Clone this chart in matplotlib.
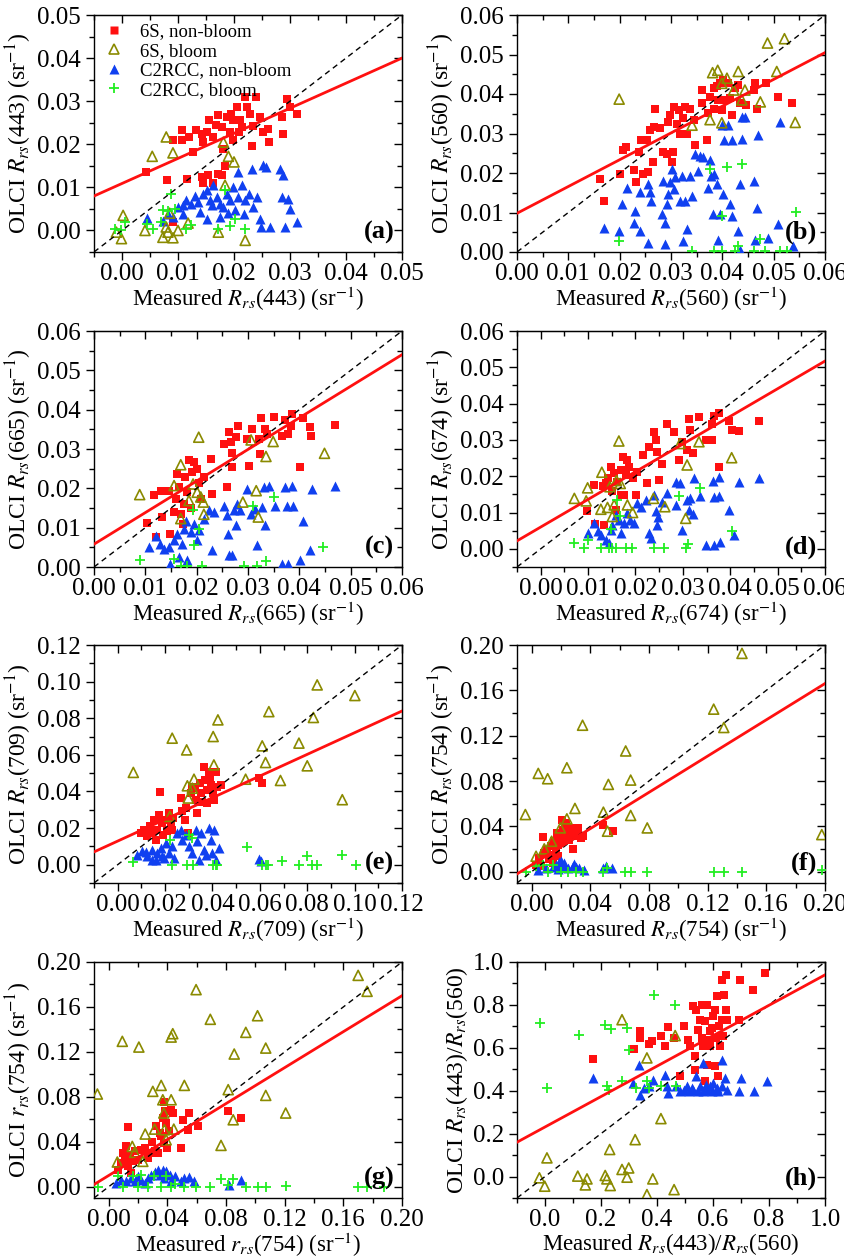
import numpy as np
import matplotlib
matplotlib.use('Agg')
import matplotlib.pyplot as plt
from matplotlib.lines import Line2D
from matplotlib.ticker import MultipleLocator, AutoMinorLocator, FormatStrFormatter

plt.rcParams['font.family'] = ['Liberation Serif', 'DejaVu Serif']
plt.rcParams['mathtext.fontset'] = 'stix'

# ---- panel (a): Rrs(443) ----
a_6s_nb = [(0.0042, 0.0135), (0.0081, 0.0116), (0.0091, 0.0211), (0.0108, 0.0234), (0.0108, 0.0209),
           (0.0120, 0.0217), (0.0127, 0.0182), (0.0116, 0.0119), (0.0133, 0.0233), (0.0142, 0.0225),
           (0.0151, 0.0229), (0.0145, 0.0205), (0.0156, 0.0256), (0.0163, 0.0217), (0.0172, 0.0267),
           (0.0178, 0.0240), (0.0187, 0.0264), (0.0194, 0.0271), (0.0199, 0.0256), (0.0205, 0.0287),
           (0.0211, 0.0256), (0.0209, 0.0229), (0.0220, 0.0310), (0.0223, 0.0287), (0.0229, 0.0271),
           (0.0239, 0.0310), (0.0234, 0.0242), (0.0246, 0.0264), (0.0252, 0.0229), (0.0260, 0.0236),
           (0.0263, 0.0205), (0.0232, 0.0195), (0.0285, 0.0264), (0.0294, 0.0306), (0.0300, 0.0287),
           (0.0312, 0.0271), (0.0287, 0.0225), (0.0193, 0.0229), (0.0199, 0.0209), (0.0180, 0.0188),
           (0.0184, 0.0149), (0.0178, 0.0128), (0.0172, 0.0132), (0.0163, 0.0109), (0.0154, 0.0128),
           (0.0142, 0.0124), (0.0144, 0.0109), (0.0091, 0.0019), (0.0168, 0.0245), (0.0215, 0.0240)]
a_6s_b = [(0.0079, 0.0217), (0.0054, 0.0172), (0.0091, 0.0180), (0.0002, 0.0035), (-0.0001, -0.0019),
          (-0.0010, -0.0004), (0.0041, 0.0000), (0.0073, -0.0016), (0.0082, -0.0004), (0.0085, 0.0040),
          (0.0091, -0.0017), (0.0100, 0.0000), (0.0118, 0.0017), (0.0172, -0.0004), (0.0181, 0.0205),
          (0.0190, 0.0172), (0.0200, 0.0159), (0.0184, 0.0105), (0.0220, -0.0023), (0.0079, 0.0008)]
a_c2_nb = [(0.0044, 0.0029), (0.0073, 0.0023), (0.0082, 0.0039), (0.0091, 0.0031), (0.0100, 0.0054),
           (0.0109, 0.0039), (0.0109, 0.0058), (0.0115, 0.0070), (0.0124, 0.0062), (0.0130, 0.0081),
           (0.0136, 0.0066), (0.0139, 0.0043), (0.0145, 0.0085), (0.0151, 0.0027), (0.0157, 0.0070),
           (0.0163, 0.0105), (0.0169, 0.0078), (0.0175, 0.0062), (0.0175, 0.0031), (0.0181, 0.0054),
           (0.0187, 0.0085), (0.0193, 0.0070), (0.0199, 0.0101), (0.0202, 0.0047), (0.0208, 0.0136),
           (0.0208, 0.0078), (0.0214, 0.0105), (0.0217, 0.0039), (0.0220, 0.0070), (0.0226, 0.0085),
           (0.0232, 0.0143), (0.0234, 0.0054), (0.0241, 0.0078), (0.0246, 0.0027), (0.0252, 0.0151),
           (0.0258, 0.0147), (0.0249, 0.0008), (0.0264, 0.0008), (0.0282, 0.0143), (0.0287, 0.0128),
           (0.0285, 0.0078), (0.0297, 0.0074), (0.0300, 0.0050), (0.0291, 0.0008), (0.0312, 0.0019),
           (0.0151, 0.0093), (0.0160, 0.0060), (0.0190, 0.0040)]
a_c2_b = [(-0.0013, 0.0004), (-0.0001, 0.0000), (0.0005, 0.0019), (0.0044, 0.0016), (0.0055, 0.0004),
          (0.0073, 0.0048), (0.0082, 0.0045), (0.0088, 0.0085), (0.0094, 0.0050), (0.0070, 0.0019),
          (0.0115, 0.0004), (0.0124, 0.0012), (0.0172, 0.0004), (0.0184, 0.0093), (0.0193, 0.0010),
          (0.0202, 0.0027), (0.0220, 0.0004)]

# ---- panel (b): Rrs(560) ----
b_6s_nb = [(0.0162, 0.0185), (0.0169, 0.0129), (0.0200, 0.0197), (0.0206, 0.0257), (0.0213, 0.0267),
           (0.0227, 0.0208), (0.0232, 0.0178), (0.0237, 0.0253), (0.0241, 0.0283), (0.0246, 0.0197),
           (0.0256, 0.0202), (0.0253, 0.0283), (0.0259, 0.0308), (0.0265, 0.0227), (0.0266, 0.0317),
           (0.0279, 0.0313), (0.0269, 0.0363), (0.0285, 0.0253), (0.0292, 0.0249), (0.0295, 0.0329),
           (0.0298, 0.0346), (0.0302, 0.0227), (0.0304, 0.0253), (0.0306, 0.0368), (0.0311, 0.0325),
           (0.0315, 0.0359), (0.0318, 0.0300), (0.0328, 0.0368), (0.0324, 0.0338), (0.0337, 0.0363),
           (0.0344, 0.0334), (0.0331, 0.0300), (0.0347, 0.0270), (0.0360, 0.0410), (0.0360, 0.0376),
           (0.0370, 0.0283), (0.0376, 0.0393), (0.0373, 0.0351), (0.0383, 0.0414), (0.0383, 0.0363),
           (0.0389, 0.0419), (0.0392, 0.0385), (0.0396, 0.0427), (0.0399, 0.0359), (0.0402, 0.0436),
           (0.0405, 0.0385), (0.0412, 0.0427), (0.0415, 0.0389), (0.0418, 0.0346), (0.0425, 0.0414),
           (0.0431, 0.0423), (0.0435, 0.0376), (0.0447, 0.0372), (0.0461, 0.0410), (0.0464, 0.0427),
           (0.0467, 0.0363), (0.0486, 0.0427), (0.0509, 0.0393), (0.0535, 0.0376)]
b_6s_b = [(0.0199, 0.0387), (0.0341, 0.0321), (0.0376, 0.0335), (0.0381, 0.0454), (0.0391, 0.0460),
          (0.0399, 0.0327), (0.0399, 0.0427), (0.0409, 0.0440), (0.0422, 0.0410), (0.0431, 0.0457),
          (0.0438, 0.0385), (0.0444, 0.0410), (0.0474, 0.0380), (0.0488, 0.0529), (0.0506, 0.0457),
          (0.0521, 0.0540), (0.0542, 0.0328)]
b_c2_nb = [(0.0169, 0.0061), (0.0198, 0.0053), (0.0204, 0.0121), (0.0214, 0.0163), (0.0230, 0.0104),
           (0.0227, 0.0074), (0.0240, 0.0151), (0.0239, 0.0053), (0.0256, 0.0172), (0.0259, 0.0151),
           (0.0261, 0.0129), (0.0256, 0.0023), (0.0282, 0.0095), (0.0284, 0.0180), (0.0289, 0.0074),
           (0.0289, 0.0019), (0.0292, 0.0121), (0.0295, 0.0146), (0.0298, 0.0176), (0.0302, 0.0210),
           (0.0305, 0.0159), (0.0308, 0.0189), (0.0318, 0.0129), (0.0321, 0.0193), (0.0324, 0.0027),
           (0.0328, 0.0129), (0.0331, 0.0057), (0.0337, 0.0193), (0.0340, 0.0142), (0.0347, 0.0249),
           (0.0353, 0.0206), (0.0357, 0.0244), (0.0363, 0.0240), (0.0372, 0.0163), (0.0376, 0.0233),
           (0.0378, 0.0193), (0.0381, 0.0095), (0.0383, 0.0197), (0.0389, 0.0172), (0.0392, 0.0031),
           (0.0396, 0.0095), (0.0399, 0.0321), (0.0402, 0.0146), (0.0404, 0.0283), (0.0412, 0.0321),
           (0.0415, 0.0121), (0.0418, 0.0283), (0.0418, 0.0091), (0.0431, 0.0053), (0.0435, 0.0172),
           (0.0438, 0.0287), (0.0438, 0.0342), (0.0444, 0.0342), (0.0461, 0.0180), (0.0464, 0.0031),
           (0.0467, 0.0112), (0.0470, 0.0295), (0.0489, 0.0036), (0.0509, 0.0070), (0.0512, 0.0329),
           (0.0538, 0.0014), (0.0435, 0.0006)]
b_c2_b = [(0.0199, 0.0029), (0.0341, 0.0003), (0.0376, 0.0210), (0.0383, 0.0003), (0.0399, 0.0003),
          (0.0399, 0.0091), (0.0409, 0.0214), (0.0438, 0.0223), (0.0431, 0.0014), (0.0425, 0.0003),
          (0.0474, 0.0034), (0.0461, 0.0003), (0.0483, 0.0003), (0.0512, 0.0003), (0.0525, 0.0003),
          (0.0544, 0.0102)]

# ---- panel (c): Rrs(665) ----
c_6s_nb = [(0.0104, 0.0113), (0.0120, 0.0076), (0.0117, 0.0182), (0.0133, 0.0127), (0.0130, 0.0194),
           (0.0146, 0.0194), (0.0149, 0.0083), (0.0156, 0.0139), (0.0159, 0.0173), (0.0162, 0.0237),
           (0.0165, 0.0203), (0.0169, 0.0135), (0.0174, 0.0110), (0.0175, 0.0161), (0.0178, 0.0228),
           (0.0182, 0.0190), (0.0185, 0.0271), (0.0191, 0.0241), (0.0195, 0.0266), (0.0201, 0.0249),
           (0.0204, 0.0213), (0.0208, 0.0173), (0.0214, 0.0228), (0.0227, 0.0275), (0.0230, 0.0186),
           (0.0259, 0.0203), (0.0254, 0.0313), (0.0263, 0.0342), (0.0266, 0.0317), (0.0269, 0.0254),
           (0.0269, 0.0289), (0.0276, 0.0331), (0.0280, 0.0359), (0.0298, 0.0325), (0.0301, 0.0258),
           (0.0308, 0.0351), (0.0321, 0.0325), (0.0326, 0.0380), (0.0323, 0.0287), (0.0333, 0.0351),
           (0.0337, 0.0338), (0.0351, 0.0382), (0.0366, 0.0334), (0.0373, 0.0374), (0.0377, 0.0338),
           (0.0383, 0.0359), (0.0386, 0.0389), (0.0402, 0.0254), (0.0407, 0.0380), (0.0420, 0.0355),
           (0.0423, 0.0334), (0.0469, 0.0362), (0.0188, 0.0150)]
c_6s_b = [(0.0089, 0.0184), (0.0169, 0.0260), (0.0156, 0.0207), (0.0169, 0.0123), (0.0185, 0.0169),
          (0.0193, 0.0211), (0.0201, 0.0190), (0.0208, 0.0178), (0.0213, 0.0165), (0.0214, 0.0134),
          (0.0204, 0.0330), (0.0290, 0.0165), (0.0306, 0.0323), (0.0316, 0.0194), (0.0320, 0.0127),
          (0.0335, 0.0281), (0.0349, 0.0319), (0.0449, 0.0289)]
c_c2_nb = [(0.0107, 0.0051), (0.0120, 0.0080), (0.0128, 0.0059), (0.0136, 0.0046), (0.0146, 0.0051),
           (0.0149, 0.0008), (0.0156, 0.0068), (0.0162, 0.0085), (0.0165, 0.0025), (0.0172, 0.0059),
           (0.0176, 0.0097), (0.0180, 0.0118), (0.0182, 0.0017), (0.0188, 0.0089), (0.0195, 0.0110),
           (0.0201, 0.0068), (0.0204, 0.0093), (0.0214, 0.0123), (0.0224, 0.0144), (0.0230, 0.0042),
           (0.0233, 0.0139), (0.0253, 0.0156), (0.0259, 0.0131), (0.0261, 0.0085), (0.0263, 0.0030),
           (0.0269, 0.0030), (0.0272, 0.0144), (0.0276, 0.0106), (0.0279, 0.0161), (0.0285, 0.0144),
           (0.0298, 0.0199), (0.0305, 0.0135), (0.0314, 0.0148), (0.0318, 0.0055), (0.0327, 0.0152),
           (0.0331, 0.0203), (0.0334, 0.0106), (0.0341, 0.0207), (0.0352, 0.0156), (0.0366, 0.0008),
           (0.0373, 0.0203), (0.0376, 0.0156), (0.0377, 0.0007), (0.0386, 0.0207), (0.0388, 0.0156),
           (0.0402, 0.0017), (0.0407, 0.0118), (0.0420, 0.0044), (0.0425, 0.0199), (0.0469, 0.0205)]
c_c2_b = [(0.0089, 0.0019), (0.0156, 0.0021), (0.0169, 0.0002), (0.0195, 0.0055), (0.0193, 0.0144),
          (0.0204, 0.0097), (0.0211, 0.0002), (0.0292, 0.0002), (0.0309, 0.0156), (0.0318, 0.0002),
          (0.0336, 0.0014), (0.0350, 0.0178), (0.0447, 0.0051), (0.0182, 0.0002)]

# ---- panel (d): Rrs(674) ----
d_6s_nb = [(0.0097, 0.0103), (0.0115, 0.0068), (0.0134, 0.0066), (0.0113, 0.0176), (0.0131, 0.0172),
           (0.0137, 0.0180), (0.0141, 0.0194), (0.0148, 0.0226), (0.0151, 0.0158), (0.0155, 0.0208),
           (0.0158, 0.0107), (0.0162, 0.0185), (0.0169, 0.0148), (0.0169, 0.0217), (0.0173, 0.0254),
           (0.0180, 0.0203), (0.0183, 0.0244), (0.0187, 0.0226), (0.0194, 0.0194), (0.0201, 0.0148),
           (0.0204, 0.0212), (0.0215, 0.0258), (0.0225, 0.0180), (0.0229, 0.0281), (0.0239, 0.0322),
           (0.0243, 0.0299), (0.0246, 0.0267), (0.0249, 0.0190), (0.0256, 0.0235), (0.0267, 0.0345),
           (0.0281, 0.0322), (0.0292, 0.0244), (0.0299, 0.0295), (0.0313, 0.0359), (0.0309, 0.0272),
           (0.0316, 0.0327), (0.0322, 0.0263), (0.0334, 0.0362), (0.0348, 0.0299), (0.0362, 0.0299),
           (0.0362, 0.0345), (0.0365, 0.0365), (0.0376, 0.0373), (0.0376, 0.0226), (0.0397, 0.0353),
           (0.0404, 0.0327), (0.0418, 0.0325), (0.0460, 0.0352), (0.0176, 0.0148)]
d_6s_b = [(0.0071, 0.0139), (0.0099, 0.0168), (0.0096, 0.0132), (0.0129, 0.0211), (0.0127, 0.0109),
          (0.0141, 0.0114), (0.0146, 0.0171), (0.0151, 0.0089), (0.0155, 0.0121), (0.0160, 0.0188),
          (0.0165, 0.0297), (0.0168, 0.0180), (0.0183, 0.0121), (0.0194, 0.0100), (0.0238, 0.0139),
          (0.0262, 0.0116), (0.0294, 0.0290), (0.0306, 0.0084), (0.0309, 0.0231), (0.0334, 0.0295),
          (0.0403, 0.0251)]
d_c2_nb = [(0.0099, 0.0043), (0.0113, 0.0071), (0.0120, 0.0048), (0.0127, 0.0038), (0.0138, 0.0025),
           (0.0145, 0.0016), (0.0148, 0.0052), (0.0151, 0.0066), (0.0158, 0.0093), (0.0165, 0.0080),
           (0.0169, 0.0043), (0.0176, 0.0071), (0.0183, 0.0098), (0.0189, 0.0080), (0.0197, 0.0071),
           (0.0204, 0.0125), (0.0211, 0.0116), (0.0222, 0.0135), (0.0229, 0.0043), (0.0232, 0.0029),
           (0.0239, 0.0148), (0.0243, 0.0103), (0.0246, 0.0066), (0.0248, 0.0089), (0.0257, 0.0130),
           (0.0267, 0.0153), (0.0285, 0.0121), (0.0285, 0.0185), (0.0295, 0.0182), (0.0299, 0.0052),
           (0.0309, 0.0135), (0.0313, 0.0107), (0.0316, 0.0139), (0.0322, 0.0096), (0.0323, 0.0194),
           (0.0336, 0.0146), (0.0348, 0.0011), (0.0364, 0.0188), (0.0365, 0.0144), (0.0365, 0.0011),
           (0.0376, 0.0146), (0.0377, 0.0197), (0.0379, 0.0018), (0.0397, 0.0107), (0.0407, 0.0038),
           (0.0418, 0.0185), (0.0460, 0.0194)]
d_c2_b = [(0.0071, 0.0017), (0.0092, 0.0002), (0.0099, 0.0023), (0.0127, 0.0002), (0.0145, 0.0002),
          (0.0148, 0.0054), (0.0151, 0.0002), (0.0158, 0.0002), (0.0162, 0.0135), (0.0167, 0.0091),
          (0.0180, 0.0002), (0.0192, 0.0002), (0.0239, 0.0002), (0.0260, 0.0002), (0.0292, 0.0146),
          (0.0306, 0.0002), (0.0311, 0.0014), (0.0336, 0.0167), (0.0403, 0.0048)]

# ---- panel (e): Rrs(709) ----
e_6s_nb = [(0.0097, 0.0173), (0.0111, 0.0191), (0.0125, 0.0155), (0.0136, 0.0209), (0.0146, 0.0173),
           (0.0153, 0.0245), (0.0160, 0.0136), (0.0167, 0.0191), (0.0174, 0.0273), (0.0178, 0.0395),
           (0.0188, 0.0227), (0.0193, 0.0164), (0.0202, 0.0245), (0.0209, 0.0182), (0.0216, 0.0282),
           (0.0223, 0.0227), (0.0231, 0.0191), (0.0235, 0.0255), (0.0266, 0.0364), (0.0273, 0.0291),
           (0.0282, 0.0245), (0.0287, 0.0309), (0.0297, 0.0173), (0.0308, 0.0391), (0.0315, 0.0427),
           (0.0325, 0.0418), (0.0329, 0.0355), (0.0336, 0.0282), (0.0347, 0.0445), (0.0350, 0.0391),
           (0.0357, 0.0345), (0.0364, 0.0536), (0.0367, 0.0464), (0.0375, 0.0409), (0.0378, 0.0336),
           (0.0385, 0.0509), (0.0389, 0.0473), (0.0395, 0.0436), (0.0403, 0.0391), (0.0406, 0.0355),
           (0.0413, 0.0509), (0.0420, 0.0427), (0.0434, 0.0436), (0.0596, 0.0473), (0.0610, 0.0445)]
e_6s_b = [(0.0066, 0.0504), (0.0230, 0.0691), (0.0220, 0.0264), (0.0291, 0.0627), (0.0294, 0.0431),
          (0.0298, 0.0364), (0.0322, 0.0467), (0.0315, 0.0418), (0.0403, 0.0700), (0.0406, 0.0545),
          (0.0423, 0.0791), (0.0540, 0.0467), (0.0610, 0.0649), (0.0624, 0.0558), (0.0638, 0.0836),
          (0.0687, 0.0460), (0.0765, 0.0664), (0.0800, 0.0540), (0.0826, 0.0804), (0.0842, 0.0982),
          (0.0948, 0.0355), (0.1001, 0.0924)]
e_c2_nb = [(0.0083, 0.0055), (0.0104, 0.0073), (0.0125, 0.0045), (0.0146, 0.0082), (0.0160, 0.0027),
           (0.0167, 0.0064), (0.0181, 0.0091), (0.0195, 0.0036), (0.0202, 0.0118), (0.0216, 0.0064),
           (0.0231, 0.0100), (0.0252, 0.0173), (0.0266, 0.0191), (0.0273, 0.0136), (0.0287, 0.0164),
           (0.0301, 0.0100), (0.0315, 0.0064), (0.0329, 0.0191), (0.0336, 0.0127), (0.0343, 0.0027),
           (0.0350, 0.0173), (0.0364, 0.0082), (0.0371, 0.0055), (0.0385, 0.0200), (0.0392, 0.0136),
           (0.0399, 0.0064), (0.0406, 0.0191), (0.0413, 0.0027), (0.0427, 0.0091), (0.0596, 0.0031),
           (0.0603, 0.0018), (0.0238, 0.0036), (0.0146, 0.0027), (0.0120, 0.0070), (0.0185, 0.0050)]
e_c2_b = [(0.0066, 0.0013), (0.0220, 0.0133), (0.0230, 0.0000), (0.0291, 0.0000), (0.0301, 0.0164),
          (0.0319, 0.0000), (0.0315, 0.0145), (0.0403, 0.0000), (0.0413, 0.0000), (0.0420, 0.0000),
          (0.0544, 0.0095), (0.0610, 0.0000), (0.0624, 0.0000), (0.0635, 0.0000), (0.0692, 0.0018),
          (0.0767, 0.0000), (0.0800, 0.0049), (0.0821, 0.0000), (0.0842, 0.0000), (0.0948, 0.0055),
          (0.1004, 0.0000)]

# ---- panel (f): Rrs(754) ----
f_6s_nb = [(0.0030, 0.0062), (0.0052, 0.0121), (0.0063, 0.0047), (0.0075, 0.0304), (0.0086, 0.0165),
           (0.0104, 0.0195), (0.0120, 0.0112), (0.0131, 0.0224), (0.0143, 0.0150), (0.0154, 0.0268),
           (0.0165, 0.0195), (0.0172, 0.0342), (0.0181, 0.0239), (0.0195, 0.0298), (0.0204, 0.0460),
           (0.0211, 0.0372), (0.0217, 0.0268), (0.0227, 0.0327), (0.0233, 0.0431), (0.0245, 0.0342),
           (0.0256, 0.0283), (0.0267, 0.0386), (0.0279, 0.0201), (0.0301, 0.0313), (0.0313, 0.0386),
           (0.0335, 0.0298), (0.0347, 0.0313), (0.0483, 0.0416), (0.0557, 0.0357), (0.0177, 0.0136),
           (0.0143, 0.0077)]
f_6s_b = [(-0.0043, 0.0504), (0.0045, 0.0867), (0.0109, 0.0820), (0.0030, 0.0136), (0.0086, 0.0201),
          (0.0136, 0.0268), (0.0195, 0.0386), (0.0240, 0.0466), (0.0240, 0.0917), (0.0295, 0.0558),
          (0.0347, 0.1292), (0.0489, 0.0525), (0.0517, 0.0357), (0.0523, 0.0770), (0.0641, 0.1065),
          (0.0675, 0.0808), (0.0675, 0.0496), (0.0788, 0.0386), (0.1241, 0.1434), (0.1310, 0.1272),
          (0.1434, 0.1926), (0.1978, 0.0327)]
f_c2_nb = [(0.0041, 0.0018), (0.0097, 0.0032), (0.0143, 0.0041), (0.0165, 0.0062), (0.0188, 0.0083),
           (0.0211, 0.0047), (0.0222, 0.0077), (0.0245, 0.0032), (0.0279, 0.0053), (0.0301, 0.0041),
           (0.0324, 0.0032), (0.0358, 0.0018), (0.0483, 0.0032), (0.0505, 0.0047), (0.0551, 0.0032),
           (0.0177, 0.0024), (0.0200, 0.0090), (0.0290, 0.0070)]
f_c2_b = [(-0.0039, 0.0000), (0.0030, 0.0047), (0.0075, 0.0062), (0.0109, 0.0000), (0.0143, 0.0062),
          (0.0200, 0.0000), (0.0245, 0.0000), (0.0301, 0.0000), (0.0347, 0.0000), (0.0489, 0.0000),
          (0.0517, 0.0032), (0.0634, 0.0000), (0.0680, 0.0000), (0.0788, 0.0000), (0.1241, 0.0000),
          (0.1310, 0.0000), (0.1434, 0.0000), (0.1978, 0.0018)]

# ---- panel (g): rrs(754) ----
g_6s_nb = [(0.0131, 0.0531), (0.0063, 0.0151), (0.0086, 0.0211), (0.0097, 0.0300), (0.0109, 0.0240),
           (0.0120, 0.0359), (0.0131, 0.0181), (0.0143, 0.0270), (0.0165, 0.0226), (0.0177, 0.0315),
           (0.0199, 0.0240), (0.0222, 0.0329), (0.0245, 0.0344), (0.0267, 0.0255), (0.0295, 0.0395),
           (0.0313, 0.0315), (0.0324, 0.0537), (0.0335, 0.0300), (0.0347, 0.0478), (0.0358, 0.0448),
           (0.0369, 0.0611), (0.0376, 0.0751), (0.0385, 0.0671), (0.0392, 0.0567), (0.0399, 0.0344),
           (0.0408, 0.0493), (0.0426, 0.0686), (0.0437, 0.0656), (0.0494, 0.0344), (0.0505, 0.0596),
           (0.0539, 0.0507), (0.0550, 0.0656), (0.0607, 0.0537), (0.0811, 0.0677), (0.0901, 0.0611),
           (0.0380, 0.0389), (0.0280, 0.0300), (0.0150, 0.0120)]
g_6s_b = [(-0.0077, 0.0825), (0.0059, 0.0220), (0.0093, 0.1294), (0.0161, 0.0359), (0.0177, 0.0306),
          (0.0206, 0.1243), (0.0233, 0.0226), (0.0249, 0.0469), (0.0301, 0.0849), (0.0313, 0.0513),
          (0.0358, 0.0902), (0.0369, 0.0774), (0.0376, 0.0656), (0.0380, 0.0507), (0.0392, 0.0418),
          (0.0426, 0.0774), (0.0426, 0.1332), (0.0437, 0.1362), (0.0444, 0.0513), (0.0516, 0.0902),
          (0.0596, 0.1754), (0.0693, 0.1490), (0.0766, 0.0368), (0.0815, 0.0864), (0.0849, 0.0596),
          (0.0856, 0.1181), (0.0935, 0.1374), (0.1015, 0.1522), (0.1071, 0.1234), (0.1071, 0.0813),
          (0.1207, 0.0656), (0.1701, 0.1881), (0.1762, 0.1739)]
g_c2_nb = [(0.0052, 0.0033), (0.0086, 0.0062), (0.0120, 0.0047), (0.0154, 0.0077), (0.0177, 0.0047),
           (0.0199, 0.0092), (0.0222, 0.0062), (0.0245, 0.0033), (0.0267, 0.0077), (0.0290, 0.0107),
           (0.0313, 0.0128), (0.0335, 0.0145), (0.0353, 0.0107), (0.0369, 0.0151), (0.0380, 0.0077),
           (0.0392, 0.0136), (0.0415, 0.0107), (0.0426, 0.0047), (0.0449, 0.0092), (0.0494, 0.0047),
           (0.0516, 0.0077), (0.0550, 0.0086), (0.0584, 0.0047), (0.0822, 0.0018), (0.0901, 0.0056)]
g_c2_b = [(-0.0072, 0.0000), (0.0063, 0.0092), (0.0097, 0.0000), (0.0165, 0.0092), (0.0199, 0.0000),
          (0.0222, 0.0107), (0.0267, 0.0000), (0.0308, 0.0092), (0.0358, 0.0000), (0.0392, 0.0092),
          (0.0426, 0.0000), (0.0449, 0.0027), (0.0516, 0.0000), (0.0596, 0.0000), (0.0693, 0.0000),
          (0.0766, 0.0068), (0.0815, 0.0018), (0.0849, 0.0068), (0.0935, 0.0000), (0.1015, 0.0000),
          (0.1071, 0.0000), (0.1207, 0.0009), (0.1701, 0.0000), (0.1762, 0.0000), (0.1876, 0.0000)]

# ---- panel (h): Rrs(443)/Rrs(560) ----
h_6s_nb = [(0.171, 0.548), (0.319, 0.596), (0.338, 0.677), (0.340, 0.647), (0.370, 0.620), (0.382, 0.631),
           (0.414, 0.654), (0.429, 0.607), (0.441, 0.697), (0.459, 0.646), (0.483, 0.467), (0.497, 0.700),
           (0.512, 0.638), (0.518, 0.607), (0.530, 0.797), (0.536, 0.561), (0.536, 0.498), (0.541, 0.778),
           (0.547, 0.685), (0.553, 0.731), (0.559, 0.646), (0.562, 0.801), (0.565, 0.607), (0.571, 0.447),
           (0.571, 0.724), (0.577, 0.801), (0.580, 0.522), (0.583, 0.638), (0.589, 0.607), (0.595, 0.693),
           (0.601, 0.747), (0.607, 0.514), (0.611, 0.646), (0.614, 0.843), (0.617, 0.467), (0.620, 0.700),
           (0.625, 0.607), (0.631, 0.918), (0.631, 0.731), (0.637, 0.654), (0.640, 0.848), (0.646, 0.941),
           (0.647, 0.778), (0.649, 0.731), (0.694, 0.728), (0.697, 0.914), (0.744, 0.871), (0.786, 0.949),
           (0.607, 0.778), (0.589, 0.677)]
h_6s_b = [(-0.020, -0.006), (-0.001, -0.045), (0.007, 0.087), (0.117, 0.002), (0.150, -0.011),
          (0.144, -0.039), (0.215, 0.005), (0.221, -0.011), (0.233, -0.042), (0.231, 0.126),
          (0.275, 0.731), (0.275, 0.033), (0.293, -0.003), (0.299, 0.040), (0.322, 0.172),
          (0.364, 0.553), (0.364, -0.084), (0.385, -0.011), (0.414, 0.270), (0.461, -0.061),
          (0.465, 0.657)]
h_c2_nb = [(0.171, 0.460), (0.316, 0.436), (0.334, 0.522), (0.338, 0.382), (0.352, 0.413), (0.370, 0.421),
           (0.384, 0.452), (0.429, 0.475), (0.435, 0.424), (0.441, 0.390), (0.468, 0.424), (0.483, 0.398),
           (0.495, 0.405), (0.507, 0.421), (0.516, 0.398), (0.524, 0.413), (0.540, 0.467), (0.545, 0.398),
           (0.554, 0.421), (0.566, 0.530), (0.566, 0.398), (0.575, 0.429), (0.580, 0.405), (0.589, 0.421),
           (0.595, 0.398), (0.601, 0.436), (0.613, 0.413), (0.619, 0.398), (0.631, 0.545), (0.631, 0.421),
           (0.643, 0.460), (0.649, 0.405), (0.694, 0.401), (0.699, 0.460), (0.747, 0.398), (0.792, 0.444),
           (0.530, 0.402)]
h_c2_b = [(-0.019, 0.716), (0.007, 0.413), (0.120, 0.661), (0.215, 0.708), (0.221, 0.421), (0.235, 0.686),
          (0.227, 0.405), (0.293, 0.693), (0.299, 0.592), (0.275, 0.444), (0.326, 0.413), (0.364, 0.444),
          (0.370, 0.413), (0.388, 0.848), (0.414, 0.421), (0.465, 0.801), (0.468, 0.421)]

# regression lines (slope, intercept)
fits = [(0.582, 0.0109), (0.678, 0.0098), (0.803, 0.0058), (0.762, 0.0060),
        (0.592, 0.0129), (0.800, 0.0060), (0.800, 0.0100), (0.709, 0.231)]
limits = [(-0.005, 0.05), (0.0, 0.06), (0.0, 0.06), (-0.005, 0.06),
          (-0.01, 0.12), (-0.01, 0.20), (-0.01, 0.20), (-0.1, 1.0)]
steps = [0.01, 0.01, 0.01, 0.01, 0.02, 0.04, 0.04, 0.2]
fmts = ['%.2f'] * 7 + ['%.1f']
xlabels = [r'Measured $R_{rs}$(443) (sr$^{-1}$)', r'Measured $R_{rs}$(560) (sr$^{-1}$)',
           r'Measured $R_{rs}$(665) (sr$^{-1}$)', r'Measured $R_{rs}$(674) (sr$^{-1}$)',
           r'Measured $R_{rs}$(709) (sr$^{-1}$)', r'Measured $R_{rs}$(754) (sr$^{-1}$)',
           r'Measured $r_{rs}$(754) (sr$^{-1}$)', r'Measured $R_{rs}$(443)/$R_{rs}$(560)']
ylabels = [r'OLCI $R_{rs}$(443) (sr$^{-1}$)', r'OLCI $R_{rs}$(560) (sr$^{-1}$)',
           r'OLCI $R_{rs}$(665) (sr$^{-1}$)', r'OLCI $R_{rs}$(674) (sr$^{-1}$)',
           r'OLCI $R_{rs}$(709) (sr$^{-1}$)', r'OLCI $R_{rs}$(754) (sr$^{-1}$)',
           r'OLCI $r_{rs}$(754) (sr$^{-1}$)', r'OLCI $R_{rs}$(443)/$R_{rs}$(560)']
tags = ['(a)', '(b)', '(c)', '(d)', '(e)', '(f)', '(g)', '(h)']
panels = [(a_6s_nb, a_6s_b, a_c2_nb, a_c2_b), (b_6s_nb, b_6s_b, b_c2_nb, b_c2_b),
          (c_6s_nb, c_6s_b, c_c2_nb, c_c2_b), (d_6s_nb, d_6s_b, d_c2_nb, d_c2_b),
          (e_6s_nb, e_6s_b, e_c2_nb, e_c2_b), (f_6s_nb, f_6s_b, f_c2_nb, f_c2_b),
          (g_6s_nb, g_6s_b, g_c2_nb, g_c2_b), (h_6s_nb, h_6s_b, h_c2_nb, h_c2_b)]

RED = '#ff1010'
OLIVE = '#8a8a00'
BLUE = '#1040f0'
GREEN = '#22ee22'

W, H = 845, 1258
fig = plt.figure(figsize=(W / 100, H / 100), dpi=100)

col_px = [(94, 402), (517, 825)]
row_px = [(15, 252), (331, 567), (645, 883), (962, 1198)]

for i in range(8):
    (x0, x1) = col_px[i % 2]
    (y0, y1) = row_px[i // 2]
    ax = fig.add_axes([x0 / W, 1 - y1 / H, (x1 - x0) / W, (y1 - y0) / H])
    red, olive, blue, green = [np.array(p) for p in panels[i]]
    lo, hi = limits[i]

    ax.scatter(red[:, 0], red[:, 1], marker='s', s=32, color=RED, linewidths=0, zorder=3)
    ax.scatter(olive[:, 0], olive[:, 1], marker='^', s=52, facecolors='none',
               edgecolors=OLIVE, linewidths=1.2, zorder=4)
    ax.scatter(blue[:, 0], blue[:, 1], marker='^', s=52, color=BLUE, linewidths=0, zorder=3)
    ax.scatter(green[:, 0], green[:, 1], marker='+', s=58, color=GREEN, linewidths=1.3, zorder=5)

    xx = np.array([lo, hi])
    ax.plot(xx, xx, color='black', lw=1.0, dashes=(4, 3), zorder=6)
    slope, icpt = fits[i]
    ax.plot(xx, slope * xx + icpt, color=RED, lw=2.0, zorder=6)

    ax.set_xlim(lo, hi)
    ax.set_ylim(lo, hi)
    ax.xaxis.set_major_locator(MultipleLocator(steps[i]))
    ax.yaxis.set_major_locator(MultipleLocator(steps[i]))
    ax.xaxis.set_minor_locator(AutoMinorLocator(2))
    ax.yaxis.set_minor_locator(AutoMinorLocator(2))
    ax.xaxis.set_major_formatter(FormatStrFormatter(fmts[i]))
    ax.yaxis.set_major_formatter(FormatStrFormatter(fmts[i]))
    ax.tick_params(which='both', direction='out', labelsize=18, width=1)
    ax.tick_params(which='major', length=6)
    ax.tick_params(which='minor', length=3.5)
    ax.tick_params(axis='x', pad=2)
    for side in ('top', 'right'):
        sec = ax.secondary_xaxis('top') if side == 'top' else ax.secondary_yaxis('right')
        sec.set_ticks(ax.get_xticks() if side == 'top' else ax.get_yticks())
        sec.tick_params(which='both', direction='in', labeltop=False, labelright=False, width=1)
        sec.tick_params(which='major', length=6)
        sec.tick_params(which='minor', length=3.5)
        (sec.xaxis if side == 'top' else sec.yaxis).set_minor_locator(AutoMinorLocator(2))
        (sec.xaxis if side == 'top' else sec.yaxis).set_ticklabels([])
    for sp in ax.spines.values():
        sp.set_linewidth(1.0)

    ax.set_xlabel(xlabels[i], fontsize=16.5, labelpad=0)
    ax.set_ylabel(ylabels[i], fontsize=17, labelpad=2)
    ax.text(0.975, 0.035, tags[i], transform=ax.transAxes, ha='right', va='bottom',
            fontsize=19, fontweight='bold', zorder=7)

    if i == 0:
        handles = [
            Line2D([], [], ls='none', marker='s', ms=6, color=RED, mec='none'),
            Line2D([], [], ls='none', marker='^', ms=7, mfc='none', mec=OLIVE, mew=1.2),
            Line2D([], [], ls='none', marker='^', ms=7, color=BLUE, mec='none'),
            Line2D([], [], ls='none', marker='+', ms=7, color=GREEN, mew=1.3),
        ]
        ax.legend(handles, ['6S, non-bloom', '6S, bloom', 'C2RCC, non-bloom', 'C2RCC, bloom'],
                  loc='upper left', frameon=False, fontsize=13.5, handlelength=1.2,
                  handletextpad=0.8, labelspacing=0.12, borderaxespad=0.25, borderpad=0.2)

fig.savefig('out.png', dpi=100)
